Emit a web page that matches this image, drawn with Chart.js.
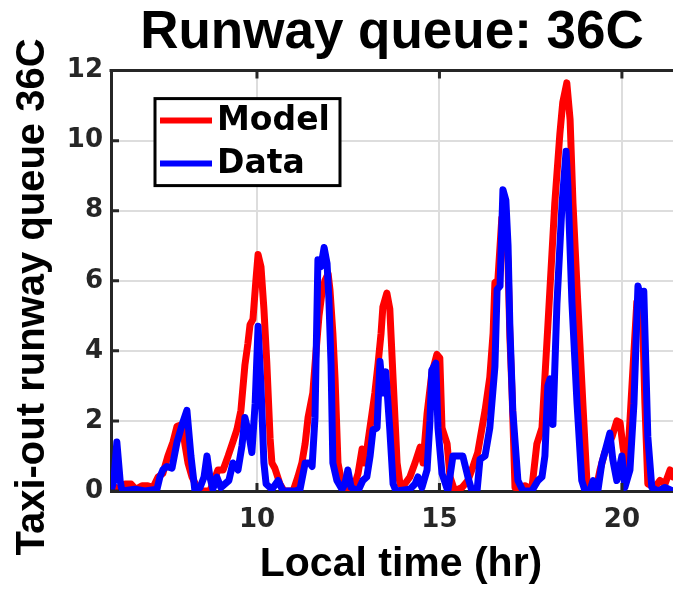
<!DOCTYPE html>
<html>
<head>
<meta charset="utf-8">
<title>Runway queue: 36C</title>
<script src="https://cdn.jsdelivr.net/npm/chart.js@4.4.1/dist/chart.umd.min.js"></script>
<style>
    html, body { margin: 0; padding: 0; background: #ffffff; }
</style>
</head>
<body>
<canvas id="queueChart" width="673" height="589"></canvas>
<script>
// === DATA ===
// Model: simulated queue length over the day (local time in hours)
const modelTime = [
    6.00, 6.14, 6.25, 6.38, 6.55, 6.68, 6.85, 7.01, 7.15, 7.29,
    7.42, 7.56, 7.70, 7.81, 7.95, 8.03, 8.11, 8.22, 8.36, 8.49,
    8.71, 8.82, 8.93, 9.07, 9.21, 9.34, 9.45, 9.56, 9.67, 9.75,
    9.81, 9.89, 9.97, 10.03, 10.11, 10.19, 10.27, 10.36, 10.41, 10.49,
    10.63, 10.74, 10.99, 11.12, 11.23, 11.32, 11.40, 11.53, 11.62, 11.70,
    11.78, 11.86, 11.95, 12.00, 12.08, 12.14, 12.22, 12.33, 12.47, 12.60,
    12.68, 12.77, 12.88, 12.96, 13.04, 13.15, 13.23, 13.32, 13.40, 13.45,
    13.56, 13.64, 13.73, 13.84, 13.92, 14.05, 14.19, 14.33, 14.47, 14.55,
    14.66, 14.79, 14.93, 15.01, 15.07, 15.21, 15.29, 15.42, 15.62, 15.78,
    15.92, 16.05, 16.25, 16.38, 16.47, 16.52, 16.60, 16.71, 16.79, 16.88,
    16.93, 16.99, 17.07, 17.21, 17.34, 17.53, 17.67, 17.81, 17.97, 18.16,
    18.30, 18.38, 18.49, 18.58, 18.66, 18.79, 18.93, 19.04, 19.18, 19.32,
    19.40, 19.53, 19.73, 19.86, 19.95, 20.03, 20.14, 20.22, 20.30, 20.41,
    20.55, 20.63, 20.71, 20.90, 21.04, 21.18, 21.32, 21.40
];
const modelQueue = [
    0.0, 0.1, 0.0, 0.2, 0.2, 0.05, 0.15, 0.15, 0.1, 0.4,
    0.5, 1.0, 1.4, 1.85, 1.9, 1.3, 0.8, 0.4, 0.1, 0.0,
    0.0, 0.3, 0.6, 0.6, 1.0, 1.4, 1.75, 2.3, 3.6, 4.2,
    4.75, 4.9, 6.0, 6.75, 6.4, 5.2, 3.65, 1.5, 0.8, 0.65,
    0.2, 0.0, 0.0, 0.4, 0.8, 1.35, 2.1, 2.8, 4.0, 5.0,
    5.65, 6.0, 6.2, 5.75, 4.5, 3.2, 0.8, 0.2, 0.0, 0.0,
    0.2, 0.5, 1.2, 0.8, 1.4, 2.2, 2.8, 3.65, 4.5, 5.25,
    5.65, 5.2, 3.2, 0.8, 0.2, 0.2, 0.4, 0.8, 1.25, 0.8,
    2.2, 3.35, 3.9, 3.8, 1.8, 1.35, 0.4, 0.0, 0.1, 0.3,
    0.7, 1.1, 2.3, 3.25, 4.5, 5.95, 6.0, 7.8, 8.0, 6.5,
    4.4, 2.8, 0.1, 0.1, 0.15, 0.05, 1.35, 1.8, 4.7, 8.2,
    10.2, 11.1, 11.65, 10.6, 8.2, 5.4, 2.5, 0.3, 0.1, 0.2,
    0.6, 1.1, 1.55, 2.0, 1.95, 1.25, 0.6, 2.0, 3.45, 5.4,
    5.65, 2.5, 0.2, 0.1, 0.3, 0.2, 0.6, 0.4
];

// Data: observed queue length
const dataTime = [
    6.00, 6.08, 6.16, 6.25, 6.30, 6.66, 6.93, 7.26, 7.34, 7.42,
    7.53, 7.67, 7.81, 7.95, 8.08, 8.19, 8.30, 8.44, 8.55, 8.63,
    8.71, 8.79, 8.90, 9.01, 9.12, 9.23, 9.34, 9.48, 9.59, 9.67,
    9.78, 9.86, 9.95, 10.03, 10.11, 10.19, 10.25, 10.41, 10.58, 10.71,
    11.04, 11.18, 11.32, 11.45, 11.51, 11.59, 11.67, 11.75, 11.84, 11.92,
    11.97, 12.03, 12.08, 12.19, 12.33, 12.41, 12.49, 12.58, 12.77, 12.90,
    13.01, 13.10, 13.18, 13.29, 13.37, 13.45, 13.53, 13.64, 13.73, 13.81,
    14.19, 14.33, 14.41, 14.52, 14.66, 14.74, 14.79, 14.90, 14.96, 15.07,
    15.23, 15.37, 15.64, 15.78, 15.89, 16.03, 16.11, 16.25, 16.38, 16.52,
    16.58, 16.66, 16.74, 16.82, 16.88, 16.93, 17.01, 17.15, 17.29, 17.53,
    17.70, 17.81, 17.89, 17.97, 18.03, 18.11, 18.22, 18.36, 18.47, 18.52,
    18.63, 18.77, 18.90, 18.99, 19.12, 19.21, 19.34, 19.45, 19.53, 19.67,
    19.75, 19.86, 20.00, 20.08, 20.22, 20.33, 20.44, 20.55, 20.60, 20.71,
    20.82, 20.99, 21.18, 21.40
];
const dataQueue = [
    0.0, 0.3, 1.4, 0.3, 0.0, 0.05, 0.0, 0.05, 0.4, 0.6,
    0.7, 0.65, 1.4, 1.9, 2.3, 1.0, 0.0, 0.1, 0.4, 1.0,
    0.4, 0.05, 0.4, 0.1, 0.2, 0.3, 0.8, 0.6, 1.3, 2.1,
    1.6, 1.1, 2.5, 4.7, 3.0, 0.8, 0.2, 0.05, 0.3, 0.0,
    0.0, 0.05, 0.8, 0.8, 0.7, 2.1, 6.6, 6.4, 6.95, 6.5,
    5.5, 3.6, 0.8, 0.3, 0.05, 0.2, 0.6, 0.1, 0.0, 0.3,
    0.4, 1.0, 1.75, 1.8, 3.7, 2.8, 3.4, 1.75, 0.2, 0.0,
    0.05, 0.2, 0.4, 0.1, 0.6, 2.0, 3.45, 3.65, 1.8, 0.5,
    0.0, 1.0, 1.0, 0.4, 0.0, 0.0, 0.9, 1.0, 1.8, 3.55,
    5.75, 5.85, 8.6, 8.3, 7.0, 4.7, 2.3, 0.3, 0.0, 0.0,
    0.3, 0.4, 1.0, 3.0, 3.2, 1.9, 5.35, 8.2, 9.7, 8.7,
    5.4, 2.5, 0.3, 0.0, 0.0, 0.3, 0.0, 0.8, 1.1, 1.65,
    0.9, 0.3, 1.0, 0.1, 0.6, 2.5, 5.85, 5.35, 5.7, 1.55,
    0.1, 0.0, 0.1, 0.0
];

const xTicks = [10, 15, 20];
const yTicks = [0, 2, 4, 6, 8, 10, 12];

const xLabel = 'Local time (hr)';
const yLabel = 'Taxi-out runway queue 36C';

const INK = '#262626';
const TEXT_FONT = '"Liberation Sans", Arial, sans-serif';
const TICK_FONT = '"DejaVu Sans", sans-serif';

function toPoints(xs, ys) {
    return xs.map((x, i) => ({ x: x, y: ys[i] }));
}

// === FRAME: top border, inward tick marks, axis titles and boxed legend ===
const framePlugin = {
    id: 'frame',
    afterDraw(chart) {
        const { ctx, chartArea: ca, scales } = chart;
        const xs = scales.x, ys = scales.y;
        ctx.save();
        ctx.strokeStyle = INK;
        ctx.lineWidth = 3;
        ctx.lineCap = 'butt';

        // top edge of the box
        ctx.beginPath();
        ctx.moveTo(ca.left - 1.5, ca.top);
        ctx.lineTo(ca.right, ca.top);
        ctx.stroke();

        // tick marks pointing into the plot
        const len = 8;
        ctx.beginPath();
        yTicks.forEach(v => {
            const py = ys.getPixelForValue(v);
            ctx.moveTo(ca.left, py);
            ctx.lineTo(ca.left + len, py);
        });
        xTicks.forEach(v => {
            const px = xs.getPixelForValue(v);
            ctx.moveTo(px, ca.bottom);
            ctx.lineTo(px, ca.bottom - len);
            ctx.moveTo(px, ca.top);
            ctx.lineTo(px, ca.top + len);
        });
        ctx.stroke();

        // axis titles
        ctx.fillStyle = '#000000';
        ctx.textAlign = 'center';
        ctx.textBaseline = 'middle';
        ctx.font = 'bold 41px ' + TEXT_FONT;
        ctx.fillText(xLabel, 401, 565);
        ctx.save();
        ctx.translate(33, 297);
        ctx.rotate(-Math.PI / 2);
        ctx.font = 'bold 40px ' + TEXT_FONT;
        ctx.fillText(yLabel, 0, 0);
        ctx.restore();

        // legend
        const bx = ca.left + 44, by = ca.top + 28, bw = 185, bh = 87;
        ctx.fillStyle = '#ffffff';
        ctx.fillRect(bx, by, bw, bh);
        ctx.strokeStyle = '#000000';
        ctx.lineWidth = 3;
        ctx.strokeRect(bx, by, bw, bh);

        const rows = [chart.data.datasets.find(d => d.label === 'Model'),
                      chart.data.datasets.find(d => d.label === 'Data')];
        ctx.font = 'bold 33px ' + TICK_FONT;
        ctx.textBaseline = 'middle';
        ctx.textAlign = 'left';
        rows.forEach((ds, i) => {
            const cy = by + 22 + i * 43;
            ctx.strokeStyle = ds.borderColor;
            ctx.lineWidth = 6;
            ctx.beginPath();
            ctx.moveTo(bx + 5, cy);
            ctx.lineTo(bx + 57, cy);
            ctx.stroke();
            ctx.fillStyle = '#000000';
            ctx.fillText(ds.label, bx + 62, cy + 1);
        });
        ctx.restore();
    }
};

new Chart(document.getElementById('queueChart'), {
    type: 'line',
    data: {
        datasets: [
            {
                label: 'Model',
                data: toPoints(modelTime, modelQueue),
                borderColor: '#ff0000',
                borderWidth: 7,
                pointRadius: 0,
                tension: 0,
                borderJoinStyle: 'round',
                borderCapStyle: 'round',
                order: 2
            },
            {
                label: 'Data',
                data: toPoints(dataTime, dataQueue),
                borderColor: '#0000ff',
                borderWidth: 7,
                pointRadius: 0,
                tension: 0,
                borderJoinStyle: 'round',
                borderCapStyle: 'round',
                order: 1
            }
        ]
    },
    options: {
        responsive: false,
        animation: false,
        devicePixelRatio: 1,
        layout: { padding: { left: 0, right: 0, top: 0, bottom: 0 } },
        plugins: {
            legend: { display: false },
            tooltip: { enabled: false },
            title: {
                display: true,
                fullSize: false,
                text: 'Runway queue: 36C',
                color: '#000000',
                font: { family: TEXT_FONT, size: 53, weight: 'bold', lineHeight: 1.2 },
                padding: { top: 2, bottom: 5 }
            }
        },
        scales: {
            x: {
                type: 'linear',
                min: 6,
                max: 21.4,
                afterBuildTicks: scale => { scale.ticks = xTicks.map(v => ({ value: v })); },
                afterFit: scale => { scale.height = 98; },
                grid: { color: '#dddddd', lineWidth: 2, drawTicks: false },
                border: { display: true, color: INK, width: 3 },
                ticks: {
                    color: INK,
                    padding: 14,
                    maxRotation: 0,
                    font: { family: TICK_FONT, size: 26, weight: 'bold' }
                }
            },
            y: {
                min: 0,
                max: 12,
                afterBuildTicks: scale => { scale.ticks = yTicks.map(v => ({ value: v })); },
                afterFit: scale => { scale.width = 111; },
                grid: { color: '#dddddd', lineWidth: 2, drawTicks: false },
                border: { display: true, color: INK, width: 3 },
                ticks: {
                    color: INK,
                    padding: 8,
                    font: { family: TICK_FONT, size: 26, weight: 'bold' }
                }
            }
        }
    },
    plugins: [framePlugin]
});
</script>
</body>
</html>
